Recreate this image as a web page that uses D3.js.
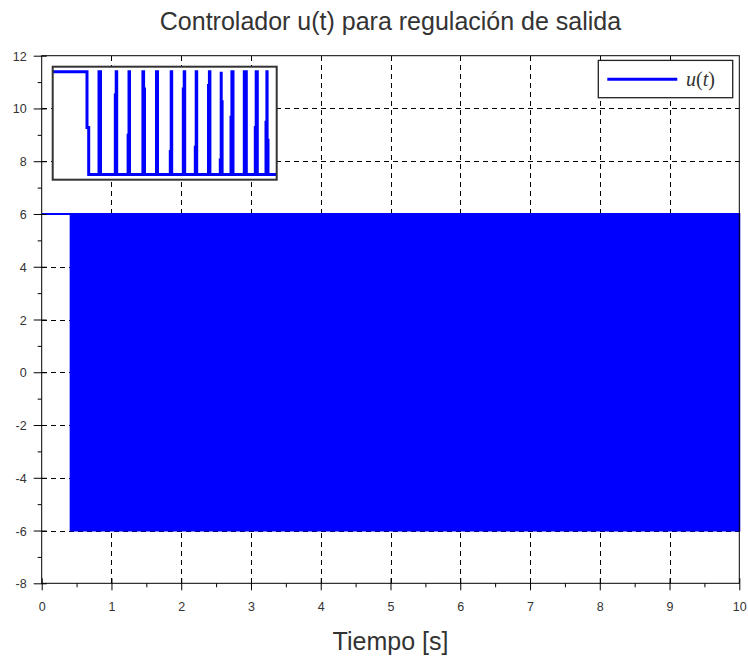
<!DOCTYPE html>
<html>
<head>
<meta charset="utf-8">
<script src="https://cdn.jsdelivr.net/npm/d3@7"></script>
<style>
  html, body { margin: 0; padding: 0; background: #fff; }
  svg { display: block; }
</style>
</head>
<body>
<svg id="chart" width="748" height="658"></svg>
<script>
// Axis ticks
const xTicks = [0, 1, 2, 3, 4, 5, 6, 7, 8, 9, 10];
const yTicks = [-8, -6, -4, -2, 0, 2, 4, 6, 8, 10, 12];

// u(t): constant +6 until switching starts, then chattering between +6 and -6
const holdT = [0, 0.415];
const holdU = [6, 6];
const chatterT = [0.415, 10];
const chatterHi = [6, 6];
const chatterLo = [-6, -6];

// Zoomed detail of the switching (local time units across the inset)
const zoomSpan = [0, 224];
const zoomFirstFall = 34.3;
const zoomFirstStep = -0.5;
const pulseRise = [46.3, 62.6, 75.4, 90.2, 103.8, 117.6, 130.6, 142.6, 155.8, 167.6, 178.3, 191.6, 202.6, 213.3];
const pulseFall = [47.8, 64.0, 76.8, 91.8, 104.8, 119.0, 132.0, 144.0, 157.2, 169.4, 180.3, 193.6, 204.6, 215.3];
const stepUp    = [null, 3.3, -1.4, null, null, -3.3, 4, -2.8, 4.4, -4.3, 0.7, null, -0.5, 0.1];
const stepDown  = [null, null, null, 4, null, null, null, null, null, 2.5, null, null, null, -2];

const svg = d3.select("#chart");
const W = 748, H = 658;
const m = { left: 41.7, right: W - 739.3, top: 55.7, bottom: H - 583.3 };
const blue = "#0000ff";
const ink = "#333";

const x = d3.scaleLinear().domain([0, 10]).range([m.left, W - m.right]);
const y = d3.scaleLinear().domain([-8, 12]).range([H - m.bottom, m.top]);

// Grid (dashed), interior lines only
const grid = svg.append("g").attr("stroke", "#000").attr("stroke-width", 1)
  .attr("stroke-dasharray", "5,4").attr("shape-rendering", "crispEdges");
grid.selectAll("line.v").data(xTicks.slice(1, -1)).join("line")
  .attr("x1", d => Math.round(x(d)) + 0.5).attr("x2", d => Math.round(x(d)) + 0.5)
  .attr("y1", y(12)).attr("y2", y(-8));
grid.selectAll("line.h").data(yTicks.slice(1, -1)).join("line")
  .attr("y1", d => Math.round(y(d)) + 0.5).attr("y2", d => Math.round(y(d)) + 0.5)
  .attr("x1", x(0)).attr("x2", x(10));

// Signal
const band = d3.area().x(d => x(d.t)).y0(d => y(d.lo)).y1(d => y(d.hi));
svg.append("path")
  .datum(chatterT.map((t, i) => ({ t, hi: chatterHi[i], lo: chatterLo[i] })))
  .attr("d", band).attr("fill", blue).attr("stroke", blue).attr("stroke-width", 2);
const line = d3.line().x(d => x(d[0])).y(d => y(d[1]));
svg.append("path").datum(holdT.map((t, i) => [t, holdU[i]]))
  .attr("d", line).attr("fill", "none").attr("stroke", blue).attr("stroke-width", 2);

// Frame
svg.append("rect").attr("x", x(0)).attr("y", y(12))
  .attr("width", x(10) - x(0)).attr("height", y(-8) - y(12))
  .attr("fill", "none").attr("stroke", "#000").attr("stroke-width", 1);

// Axes
const tickFont = "'Liberation Sans', Arial, sans-serif";
const plain = d => String(d);
const xAxis = svg.append("g").attr("transform", `translate(0,${y(-8)})`)
  .call(d3.axisBottom(x).tickValues(xTicks).tickFormat(plain).tickSize(7).tickSizeOuter(0));
xAxis.select(".domain").remove();
xAxis.selectAll(".tick line").attr("y1", -5).attr("stroke", "#000");
xAxis.selectAll(".tick text").attr("y", 28.2).attr("dy", 0)
  .attr("font-family", tickFont).attr("font-size", 12.5).attr("fill", ink);
svg.append("g").attr("transform", `translate(0,${y(-8)})`)
  .call(d3.axisBottom(x).tickValues(d3.range(0.5, 10, 1)).tickFormat("").tickSize(4).tickSizeOuter(0))
  .call(g => g.select(".domain").remove());

const yAxis = svg.append("g").attr("transform", `translate(${x(0)},0)`)
  .call(d3.axisLeft(y).tickValues(yTicks).tickFormat(plain).tickSize(8).tickSizeOuter(0));
yAxis.select(".domain").remove();
yAxis.selectAll(".tick line").attr("x1", 5).attr("stroke", "#000");
yAxis.selectAll(".tick text").attr("x", -15).attr("dy", "0.36em")
  .attr("font-family", tickFont).attr("font-size", 12.5).attr("fill", ink);
svg.append("g").attr("transform", `translate(${x(0)},0)`)
  .call(d3.axisLeft(y).tickValues(d3.range(-7, 12, 2)).tickFormat("").tickSize(4).tickSizeOuter(0))
  .call(g => g.select(".domain").remove());

// Inset with a zoomed view of the switching
const ib = { x0: 52.7, y0: 66.7, x1: 276.7, y1: 179.7 };
const inset = svg.append("g");
inset.append("rect").attr("x", ib.x0).attr("y", ib.y0)
  .attr("width", ib.x1 - ib.x0).attr("height", ib.y1 - ib.y0).attr("fill", "#fff");
inset.append("clipPath").attr("id", "zclip").append("rect")
  .attr("x", ib.x0).attr("y", ib.y0).attr("width", ib.x1 - ib.x0).attr("height", ib.y1 - ib.y0);
const zx = d3.scaleLinear().domain(zoomSpan).range([ib.x0, ib.x1]);
const zy = d3.scaleLinear().domain([-6.6, 6.6]).range([ib.y1, ib.y0]);
const off = 0.9;
const pts = [[zoomSpan[0], 6], [zoomFirstFall, 6], [zoomFirstFall, zoomFirstStep],
             [zoomFirstFall + 1.7, zoomFirstStep], [zoomFirstFall + 1.7, -6]];
pulseRise.forEach((r, i) => {
  const f = pulseFall[i];
  pts.push([r, -6]);
  if (stepUp[i] !== null) {
    pts.push([r, stepUp[i]], [r + off, stepUp[i]], [r + off, 6]);
  } else {
    pts.push([r, 6]);
  }
  if (stepDown[i] !== null) {
    pts.push([f - off, 6], [f - off, stepDown[i]], [f, stepDown[i]], [f, -6]);
  } else {
    pts.push([f, 6], [f, -6]);
  }
});
pts.push([zoomSpan[1], -6]);
inset.append("path").datum(pts)
  .attr("d", d3.line().x(d => zx(d[0])).y(d => zy(d[1])))
  .attr("clip-path", "url(#zclip)")
  .attr("fill", "none").attr("stroke", blue).attr("stroke-width", 3)
  .attr("stroke-linejoin", "miter");
inset.append("rect").attr("x", ib.x0).attr("y", ib.y0)
  .attr("width", ib.x1 - ib.x0).attr("height", ib.y1 - ib.y0)
  .attr("fill", "none").attr("stroke", "#333").attr("stroke-width", 2);

// Legend
const lg = svg.append("g");
lg.append("rect").attr("x", 598.3).attr("y", 60.4).attr("width", 134.4).attr("height", 37.3)
  .attr("fill", "#fff").attr("stroke", "#222").attr("stroke-width", 1.3);
lg.append("line").attr("x1", 607.3).attr("x2", 677.3).attr("y1", 79.3).attr("y2", 79.3)
  .attr("stroke", blue).attr("stroke-width", 3);
const lt = lg.append("text").attr("x", 686).attr("y", 86)
  .attr("font-family", "'Liberation Serif', 'DejaVu Serif', serif").attr("font-size", 20).attr("fill", ink);
lt.append("tspan").attr("font-style", "italic").text("u");
lt.append("tspan").text("(");
lt.append("tspan").attr("font-style", "italic").text("t");
lt.append("tspan").text(")");

// Titles
const labFont = "'Liberation Sans', Arial, sans-serif";
svg.append("text").attr("x", (x(0) + x(10)) / 2).attr("y", 30)
  .attr("text-anchor", "middle").attr("font-family", labFont).attr("font-size", 25)
  .attr("fill", ink).text("Controlador u(t) para regulación de salida");
svg.append("text").attr("x", (x(0) + x(10)) / 2).attr("y", 650)
  .attr("text-anchor", "middle").attr("font-family", labFont).attr("font-size", 25)
  .attr("fill", ink).text("Tiempo [s]");
</script>
</body>
</html>
